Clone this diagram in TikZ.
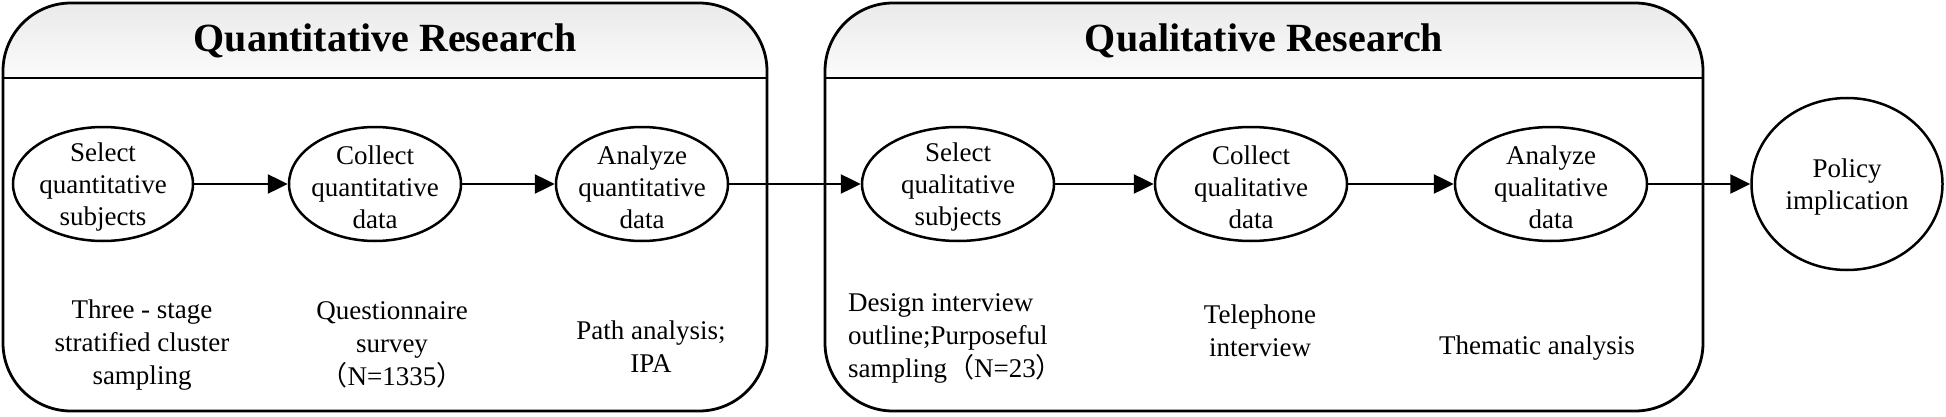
\documentclass[tikz,border=0pt]{standalone}
\usepackage{fontspec}
\setmainfont{Liberation Serif}
\newfontfamily\cjk{Noto Sans CJK SC}
\usetikzlibrary{shapes.geometric,arrows.meta}
\definecolor{hdtop}{RGB}{234,234,234}
\definecolor{hdbot}{RGB}{251,251,251}
\newcommand{\lp}{{\cjk （}}
\newcommand{\rp}{{\cjk ）}}
\begin{document}
\begin{tikzpicture}[x=1pt,y=1pt,
  boxline/.style={line width=2.8pt},
  ell/.style={draw,ellipse,line width=2.5pt,inner sep=0pt},
  etxt/.style={align=center,inner sep=0pt,yshift=-3pt,
    font=\fontsize{27}{32}\selectfont},
  arr/.style={line width=2.5pt,-{Triangle[length=20pt,width=19pt]}},
  btxt/.style={align=center,font=\fontsize{27}{33}\selectfont,inner sep=0pt},
  ttl/.style={anchor=base,font=\fontsize{40}{48}\selectfont\bfseries,inner sep=0pt}]
\useasboundingbox (0,0) rectangle (1946,416);
% left box
\shade[top color=hdtop,bottom color=hdbot] (3,338) -- (3,345) arc[start angle=180,end angle=90,radius=68] -- (699,413) arc[start angle=90,end angle=0,radius=68] -- (767,338) -- cycle;
\draw[boxline,rounded corners=68pt] (3,5) rectangle (767,413);
\draw[boxline] (3,338) -- (767,338);
\node[ttl] (t1) at (385,364) {Quantitative Research};
% right box
\shade[top color=hdtop,bottom color=hdbot] (825,338) -- (825,345) arc[start angle=180,end angle=90,radius=68] -- (1635,413) arc[start angle=90,end angle=0,radius=68] -- (1703,338) -- cycle;
\draw[boxline,rounded corners=68pt] (825,5) rectangle (1703,413);
\draw[boxline] (825,338) -- (1703,338);
\node[ttl] (t2) at (1264,364) {Qualitative Research};
% ellipses
\node[ell,minimum width=180pt,minimum height=114pt,label={[etxt]center:{Select\\quantitative\\subjects}}] (e1) at (103,232) {};
\node[ell,minimum width=172pt,minimum height=114pt,label={[etxt]center:{Collect\\quantitative\\data}}] (e2) at (375,232) {};
\node[ell,minimum width=172pt,minimum height=114pt,label={[etxt]center:{Analyze\\quantitative\\data}}] (e3) at (642,232) {};
\node[ell,minimum width=192pt,minimum height=114pt,label={[etxt]center:{Select\\qualitative\\subjects}}] (q1) at (958,232) {};
\node[ell,minimum width=192pt,minimum height=114pt,label={[etxt]center:{Collect\\qualitative\\data}}] (q2) at (1251,232) {};
\node[ell,minimum width=192pt,minimum height=114pt,label={[etxt]center:{Analyze\\qualitative\\data}}] (q3) at (1551,232) {};
\node[ell,minimum width=191pt,minimum height=172pt,label={[etxt]center:{Policy\\implication}}] (p) at (1847,232) {};
% arrows
\draw[arr] (e1) -- (e2);
\draw[arr] (e2) -- (e3);
\draw[arr] (e3) -- (q1);
\draw[arr] (q1) -- (q2);
\draw[arr] (q2) -- (q3);
\draw[arr] (q3) -- (p);
% bottom texts
\node[btxt] (b1) at (142,71) {Three - stage\\stratified cluster\\sampling};
\node[btxt] (b2) at (392,71) {Questionnaire\\survey\\\lp N=1335\rp};
\node[btxt] (b3) at (651,69) {Path analysis;\\IPA};
\node[btxt,align=left,anchor=west] (b4) at (848,78) {Design interview\\outline;Purposeful\\sampling\lp N=23\rp};
\node[btxt] (b5) at (1260,85) {Telephone\\interview};
\node[btxt] (b6) at (1537,68) {Thematic analysis};
\end{tikzpicture}
\end{document}
